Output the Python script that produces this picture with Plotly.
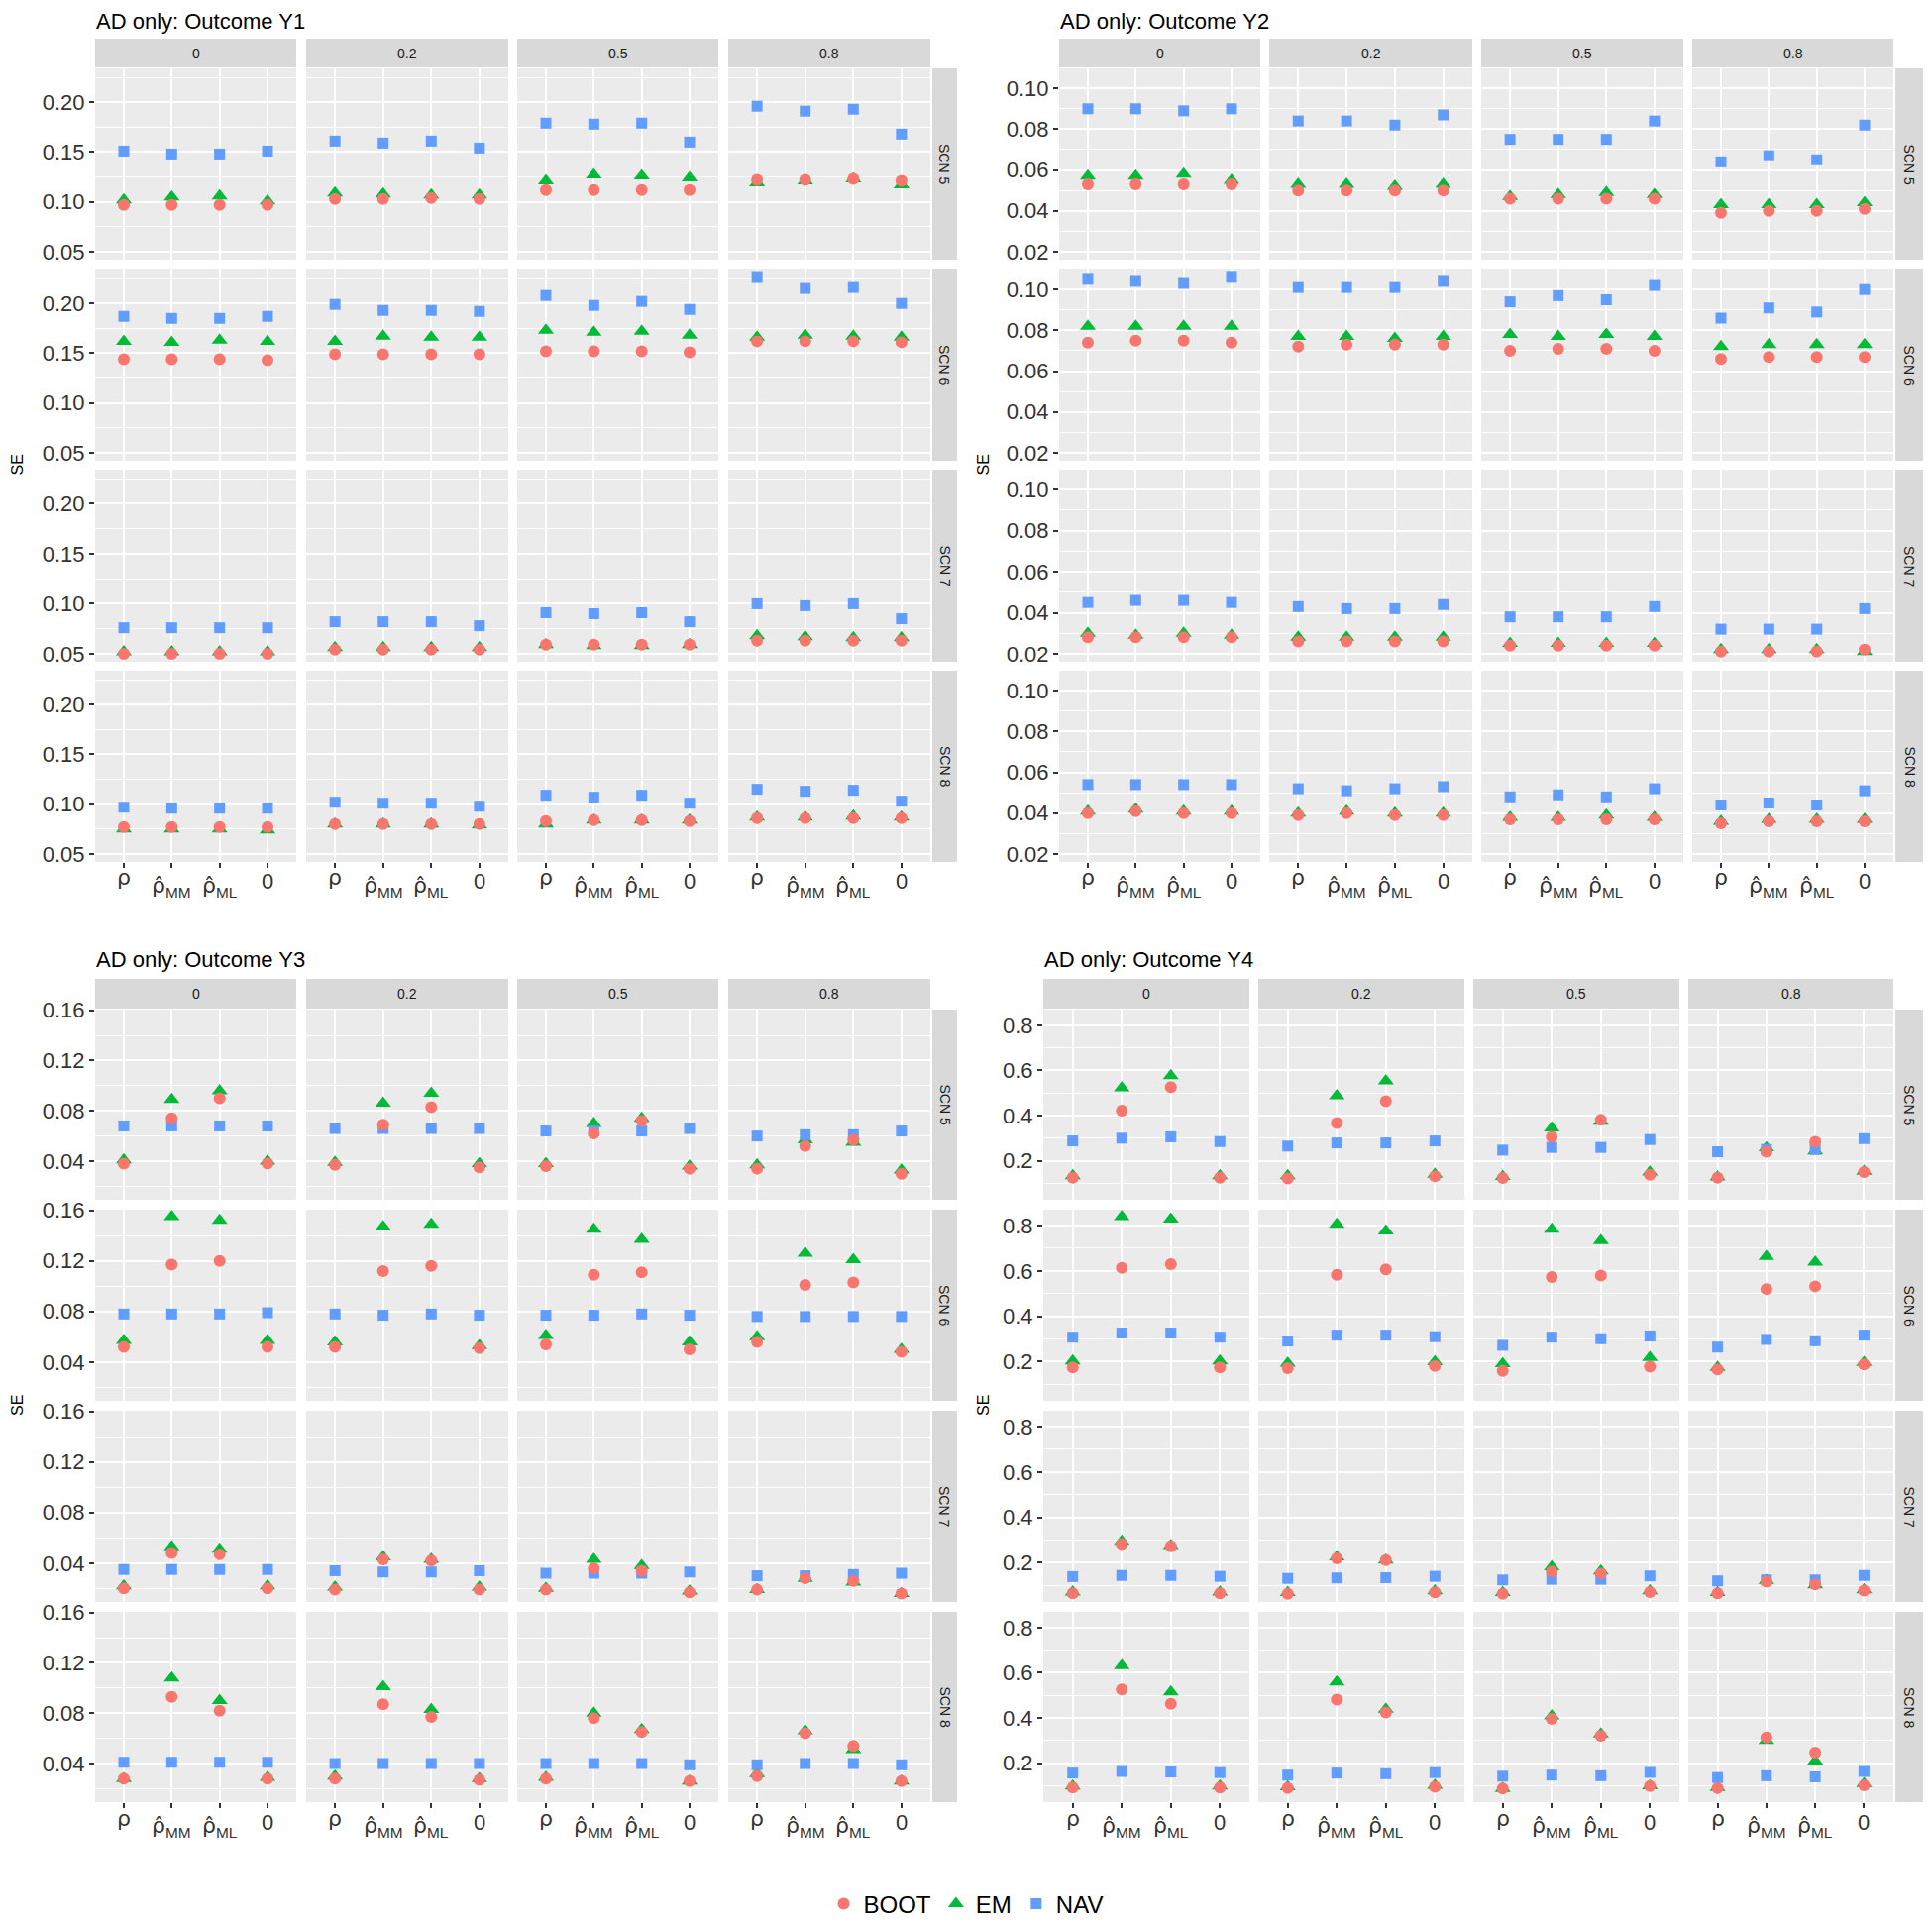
import plotly.graph_objects as go

W, H = 1950, 1944
# the page body adds an 8px margin around the figure: keep the figure inside the window
PAGE_OFF = 8
FIG_W, FIG_H = W - 2 * PAGE_OFF, H - 2 * PAGE_OFF

# ---------------- data ----------------
x_cats = ["rho", "rho_MM", "rho_ML", "zero"]
RHO = "<span style='font-family:DejaVu Sans'>ρ</span>"
RHO_HAT = "<span style='font-family:DejaVu Sans'>ρ\u0302</span>"
x_labels = [RHO, RHO_HAT + "<sub>MM</sub>", RHO_HAT + "<sub>ML</sub>", "0"]
rho_levels = ["0", "0.2", "0.5", "0.8"]
scn_levels = ["SCN 5", "SCN 6", "SCN 7", "SCN 8"]
methods = ["BOOT", "EM", "NAV"]

# each array: [scenario][rho level][x category]
Y1_BOOT = [[[0.097, 0.097, 0.097, 0.097], [0.103, 0.103, 0.104, 0.103], [0.112, 0.112, 0.112, 0.112], [0.122, 0.122, 0.123, 0.121]],
           [[0.144, 0.144, 0.144, 0.143], [0.149, 0.149, 0.149, 0.149], [0.152, 0.152, 0.152, 0.151], [0.162, 0.162, 0.162, 0.161]],
           [[0.050, 0.050, 0.050, 0.050], [0.054, 0.054, 0.054, 0.054], [0.059, 0.059, 0.059, 0.059], [0.063, 0.063, 0.063, 0.063]],
           [[0.077, 0.077, 0.077, 0.077], [0.080, 0.080, 0.080, 0.080], [0.083, 0.084, 0.084, 0.083], [0.086, 0.086, 0.086, 0.086]]]
Y1_EM = [[[0.102, 0.105, 0.106, 0.101], [0.109, 0.108, 0.107, 0.107], [0.121, 0.127, 0.126, 0.124], [0.119, 0.121, 0.123, 0.117]],
         [[0.162, 0.161, 0.163, 0.162], [0.162, 0.167, 0.166, 0.166], [0.173, 0.171, 0.172, 0.168], [0.166, 0.168, 0.167, 0.166]],
         [[0.052, 0.052, 0.052, 0.052], [0.056, 0.056, 0.056, 0.056], [0.059, 0.058, 0.058, 0.059], [0.068, 0.067, 0.066, 0.066]],
         [[0.075, 0.075, 0.075, 0.074], [0.080, 0.080, 0.080, 0.079], [0.080, 0.084, 0.084, 0.084], [0.087, 0.087, 0.088, 0.087]]]
Y1_NAV = [[[0.151, 0.148, 0.148, 0.151], [0.161, 0.159, 0.161, 0.154], [0.179, 0.178, 0.179, 0.160], [0.196, 0.191, 0.193, 0.168]],
          [[0.187, 0.185, 0.185, 0.187], [0.199, 0.193, 0.193, 0.192], [0.208, 0.198, 0.202, 0.194], [0.226, 0.215, 0.216, 0.200]],
          [[0.076, 0.076, 0.076, 0.076], [0.082, 0.082, 0.082, 0.078], [0.091, 0.090, 0.091, 0.082], [0.100, 0.098, 0.100, 0.085]],
          [[0.097, 0.096, 0.096, 0.096], [0.102, 0.101, 0.101, 0.098], [0.109, 0.107, 0.109, 0.101], [0.115, 0.113, 0.114, 0.103]]]

Y2_BOOT = [[[0.053, 0.053, 0.053, 0.053], [0.050, 0.050, 0.050, 0.050], [0.046, 0.046, 0.046, 0.046], [0.039, 0.040, 0.040, 0.041]],
           [[0.074, 0.075, 0.075, 0.074], [0.072, 0.073, 0.073, 0.073], [0.070, 0.071, 0.071, 0.070], [0.066, 0.067, 0.067, 0.067]],
           [[0.028, 0.028, 0.028, 0.028], [0.026, 0.026, 0.026, 0.026], [0.024, 0.024, 0.024, 0.024], [0.021, 0.021, 0.021, 0.022]],
           [[0.040, 0.041, 0.040, 0.040], [0.039, 0.040, 0.039, 0.039], [0.037, 0.037, 0.037, 0.037], [0.035, 0.036, 0.036, 0.036]]]
Y2_EM = [[[0.057, 0.057, 0.058, 0.055], [0.053, 0.053, 0.052, 0.053], [0.047, 0.048, 0.049, 0.048], [0.043, 0.043, 0.043, 0.044]],
         [[0.082, 0.082, 0.082, 0.082], [0.077, 0.077, 0.076, 0.077], [0.078, 0.077, 0.078, 0.077], [0.072, 0.073, 0.073, 0.073]],
         [[0.030, 0.029, 0.030, 0.029], [0.028, 0.028, 0.028, 0.028], [0.025, 0.025, 0.025, 0.025], [0.022, 0.022, 0.022, 0.021]],
         [[0.041, 0.042, 0.041, 0.041], [0.040, 0.041, 0.040, 0.040], [0.038, 0.038, 0.039, 0.038], [0.036, 0.037, 0.037, 0.037]]]
Y2_NAV = [[[0.090, 0.090, 0.089, 0.090], [0.084, 0.084, 0.082, 0.087], [0.075, 0.075, 0.075, 0.084], [0.064, 0.067, 0.065, 0.082]],
          [[0.105, 0.104, 0.103, 0.106], [0.101, 0.101, 0.101, 0.104], [0.094, 0.097, 0.095, 0.102], [0.086, 0.091, 0.089, 0.100]],
          [[0.045, 0.046, 0.046, 0.045], [0.043, 0.042, 0.042, 0.044], [0.038, 0.038, 0.038, 0.043], [0.032, 0.032, 0.032, 0.042]],
          [[0.054, 0.054, 0.054, 0.054], [0.052, 0.051, 0.052, 0.053], [0.048, 0.049, 0.048, 0.052], [0.044, 0.045, 0.044, 0.051]]]

Y3_BOOT = [[[0.038, 0.074, 0.090, 0.038], [0.037, 0.069, 0.083, 0.035], [0.036, 0.062, 0.072, 0.034], [0.034, 0.052, 0.057, 0.030]],
           [[0.052, 0.117, 0.120, 0.052], [0.052, 0.112, 0.116, 0.051], [0.054, 0.109, 0.111, 0.050], [0.056, 0.101, 0.103, 0.048]],
           [[0.020, 0.048, 0.047, 0.020], [0.019, 0.043, 0.042, 0.019], [0.019, 0.036, 0.034, 0.017], [0.019, 0.028, 0.026, 0.016]],
           [[0.028, 0.093, 0.082, 0.028], [0.028, 0.087, 0.077, 0.027], [0.028, 0.076, 0.065, 0.026], [0.030, 0.064, 0.054, 0.026]]]
Y3_EM = [[[0.041, 0.089, 0.096, 0.040], [0.039, 0.086, 0.094, 0.038], [0.038, 0.070, 0.074, 0.036], [0.037, 0.057, 0.055, 0.033]],
         [[0.057, 0.155, 0.152, 0.057], [0.056, 0.147, 0.149, 0.053], [0.061, 0.145, 0.137, 0.056], [0.060, 0.126, 0.121, 0.050]],
         [[0.022, 0.053, 0.051, 0.022], [0.021, 0.045, 0.043, 0.021], [0.020, 0.043, 0.038, 0.018], [0.019, 0.028, 0.025, 0.016]],
         [[0.028, 0.108, 0.090, 0.029], [0.030, 0.101, 0.083, 0.028], [0.029, 0.080, 0.067, 0.026], [0.032, 0.066, 0.051, 0.026]]]
Y3_NAV = [[[0.068, 0.068, 0.068, 0.068], [0.066, 0.066, 0.066, 0.066], [0.064, 0.064, 0.064, 0.066], [0.060, 0.061, 0.061, 0.064]],
          [[0.078, 0.078, 0.078, 0.079], [0.078, 0.077, 0.078, 0.077], [0.077, 0.077, 0.078, 0.077], [0.076, 0.076, 0.076, 0.076]],
          [[0.035, 0.035, 0.035, 0.035], [0.034, 0.033, 0.033, 0.034], [0.032, 0.032, 0.032, 0.033], [0.030, 0.030, 0.031, 0.032]],
          [[0.041, 0.041, 0.041, 0.041], [0.040, 0.040, 0.040, 0.040], [0.040, 0.040, 0.040, 0.039], [0.039, 0.040, 0.040, 0.039]]]

Y4_BOOT = [[[0.125, 0.422, 0.526, 0.125], [0.121, 0.367, 0.464, 0.131], [0.124, 0.306, 0.382, 0.138], [0.125, 0.240, 0.284, 0.150]],
           [[0.174, 0.613, 0.630, 0.174], [0.171, 0.583, 0.607, 0.181], [0.159, 0.573, 0.580, 0.178], [0.166, 0.520, 0.532, 0.188]],
           [[0.065, 0.282, 0.273, 0.065], [0.063, 0.219, 0.212, 0.070], [0.063, 0.161, 0.152, 0.071], [0.065, 0.117, 0.105, 0.077]],
           [[0.092, 0.526, 0.463, 0.092], [0.090, 0.481, 0.424, 0.095], [0.087, 0.396, 0.321, 0.098], [0.089, 0.314, 0.247, 0.102]]]
Y4_EM = [[[0.133, 0.523, 0.577, 0.133], [0.133, 0.488, 0.554, 0.140], [0.130, 0.345, 0.375, 0.150], [0.128, 0.257, 0.243, 0.153]],
         [[0.203, 0.839, 0.829, 0.203], [0.193, 0.806, 0.776, 0.199], [0.191, 0.784, 0.733, 0.218], [0.174, 0.664, 0.639, 0.196]],
         [[0.071, 0.295, 0.276, 0.071], [0.068, 0.226, 0.212, 0.076], [0.068, 0.182, 0.163, 0.076], [0.068, 0.122, 0.102, 0.080]],
         [[0.098, 0.632, 0.516, 0.098], [0.095, 0.559, 0.439, 0.102], [0.087, 0.409, 0.329, 0.099], [0.092, 0.300, 0.209, 0.109]]]
Y4_NAV = [[[0.288, 0.300, 0.306, 0.285], [0.265, 0.279, 0.279, 0.288], [0.247, 0.259, 0.259, 0.294], [0.240, 0.250, 0.250, 0.298]],
          [[0.308, 0.326, 0.326, 0.308], [0.291, 0.317, 0.317, 0.310], [0.272, 0.308, 0.301, 0.313], [0.264, 0.298, 0.292, 0.317]],
          [[0.139, 0.144, 0.144, 0.140], [0.131, 0.133, 0.134, 0.140], [0.124, 0.127, 0.127, 0.142], [0.120, 0.124, 0.124, 0.144]],
          [[0.156, 0.163, 0.161, 0.158], [0.147, 0.156, 0.153, 0.158], [0.142, 0.147, 0.144, 0.159], [0.136, 0.144, 0.139, 0.163]]]

panel_titles = ["AD only: Outcome Y1", "AD only: Outcome Y2", "AD only: Outcome Y3", "AD only: Outcome Y4"]

# ---------------- layout geometry (window pixels) ----------------
COLS_L = [(96, 299), (309, 513), (522, 725), (735, 939)]
COLS_R2 = [(1069, 1272), (1281, 1486), (1495, 1699), (1708, 1911)]
COLS_R4 = [(1053, 1261), (1270, 1478), (1487, 1695), (1704, 1911)]
ROWS_T = [(69, 262), (272, 465), (474, 668), (677, 870)]
ROWS_B = [(1019, 1211), (1221, 1414), (1424, 1617), (1627, 1819)]

PANELS = [
    dict(title=panel_titles[0], data={"BOOT": Y1_BOOT, "EM": Y1_EM, "NAV": Y1_NAV},
         cols=COLS_L, rows=ROWS_T, strip_y=(39, 68), strip_x=(941, 966), title_top=8, se_x=17,
         yrange=[0.042, 0.234], tick0=0.05, dtick=0.05, fmt=".2f"),
    dict(title=panel_titles[1], data={"BOOT": Y2_BOOT, "EM": Y2_EM, "NAV": Y2_NAV},
         cols=COLS_R2, rows=ROWS_T, strip_y=(39, 68), strip_x=(1913, 1941), title_top=8, se_x=992,
         yrange=[0.0161, 0.1098], tick0=0.02, dtick=0.02, fmt=".2f"),
    dict(title=panel_titles[2], data={"BOOT": Y3_BOOT, "EM": Y3_EM, "NAV": Y3_NAV},
         cols=COLS_L, rows=ROWS_B, strip_y=(988, 1018), strip_x=(941, 966), title_top=955, se_x=17,
         yrange=[0.0093, 0.1605], tick0=0.04, dtick=0.04, fmt=".2f"),
    dict(title=panel_titles[3], data={"BOOT": Y4_BOOT, "EM": Y4_EM, "NAV": Y4_NAV},
         cols=COLS_R4, rows=ROWS_B, strip_y=(988, 1018), strip_x=(1913, 1941), title_top=955, se_x=992,
         yrange=[0.027, 0.870], tick0=0.2, dtick=0.2, fmt=".1f"),
]

STYLE = {
    "BOOT": dict(color="#F8766D", symbol="circle", size=12, rank=1),
    "EM": dict(color="#00BA38", symbol="triangle-up", size=14, rank=2),
    "NAV": dict(color="#619CFF", symbol="square", size=11, rank=3),
}
DRAW_ORDER = ["EM", "NAV", "BOOT"]

FONT = "Liberation Sans, Arial, sans-serif"
TICK_COL = "#333333"
LABEL_OFF = [16, 25, 25, 20]  # px below the panel bottom for each x label


def fx(p):
    return (p - PAGE_OFF) / FIG_W


def fy(p):
    return 1 - (p - PAGE_OFF) / FIG_H


fig = go.Figure()
layout = {}
shapes = []
annotations = []
k = 0
for P in PANELS:
    annotations.append(dict(text=P["title"], x=fx(P["cols"][0][0]), y=fy(P["title_top"]), xref="paper", yref="paper",
                            xanchor="left", yanchor="top", showarrow=False, borderpad=0,
                            font=dict(size=22, color="black", family=FONT)))
    yc = (P["rows"][0][0] + P["rows"][3][1]) / 2
    annotations.append(dict(text="SE", x=fx(P["se_x"]), y=fy(yc), xref="paper", yref="paper",
                            xanchor="center", yanchor="middle", showarrow=False, textangle=-90,
                            font=dict(size=16, color="black", family=FONT)))
    for c, (x0, x1) in enumerate(P["cols"]):
        shapes.append(dict(type="rect", xref="paper", yref="paper", x0=fx(x0), x1=fx(x1),
                           y0=fy(P["strip_y"][1]), y1=fy(P["strip_y"][0]), fillcolor="#D9D9D9",
                           line=dict(width=0), layer="below"))
        annotations.append(dict(text=rho_levels[c], x=fx((x0 + x1) / 2), y=fy(sum(P["strip_y"]) / 2),
                                xref="paper", yref="paper", showarrow=False, xanchor="center", yanchor="middle",
                                font=dict(size=14, color="#1A1A1A", family=FONT)))
    for r, (y0, y1) in enumerate(P["rows"]):
        sx0, sx1 = P["strip_x"]
        shapes.append(dict(type="rect", xref="paper", yref="paper", x0=fx(sx0), x1=fx(sx1),
                           y0=fy(y1), y1=fy(y0), fillcolor="#D9D9D9", line=dict(width=0), layer="below"))
        annotations.append(dict(text=scn_levels[r], x=fx((sx0 + sx1) / 2), y=fy((y0 + y1) / 2),
                                xref="paper", yref="paper", showarrow=False, textangle=90,
                                xanchor="center", yanchor="middle",
                                font=dict(size=14, color="#1A1A1A", family=FONT)))
    yb = P["rows"][3][1]
    for r, (y0, y1) in enumerate(P["rows"]):
        for c, (x0, x1) in enumerate(P["cols"]):
            k += 1
            sfx = "" if k == 1 else str(k)
            xref, yref = "x" + sfx, "y" + sfx
            bottom = r == 3
            left = c == 0
            layout["xaxis" + sfx] = dict(
                domain=[fx(x0), fx(x1)], anchor=yref, type="category",
                categoryorder="array", categoryarray=x_cats, range=[-0.6, 3.6],
                tickmode="array", tickvals=x_cats, ticktext=x_cats,
                showticklabels=False, ticks="outside" if bottom else "", ticklen=5, tickwidth=2,
                tickcolor=TICK_COL, automargin=False,
                showgrid=True, gridcolor="white", gridwidth=2, zeroline=False, showline=False,
            )
            layout["yaxis" + sfx] = dict(
                domain=[fy(y1), fy(y0)], anchor=xref, range=P["yrange"],
                tickmode="linear", tick0=P["tick0"], dtick=P["dtick"], tickformat=P["fmt"],
                showticklabels=left, ticks="outside" if left else "", ticklen=5, tickwidth=2,
                tickcolor=TICK_COL, tickfont=dict(size=22, color=TICK_COL, family=FONT),
                automargin=False,
                showgrid=True, gridcolor="white", gridwidth=2, zeroline=False, showline=False,
                minor=dict(tickmode="linear", tick0=0, dtick=P["dtick"] / 2, showgrid=True,
                           gridcolor="white", gridwidth=1, ticks=""),
            )
            if bottom:
                # category labels of the x axis, placed on the axis' own category positions
                for i, cat in enumerate(x_cats):
                    annotations.append(dict(text=x_labels[i], x=cat, xref=xref, y=fy(yb + LABEL_OFF[i]),
                                            yref="paper", xanchor="center", yanchor="middle", showarrow=False,
                                            borderpad=0, font=dict(size=22, color=TICK_COL, family=FONT)))
            for m in DRAW_ORDER:
                st = STYLE[m]
                fig.add_trace(go.Scatter(
                    x=x_cats, y=P["data"][m][r][c], xaxis=xref, yaxis=yref, mode="markers",
                    name=m, legendgroup=m, showlegend=(k == 1), legendrank=st["rank"],
                    marker=dict(color=st["color"], symbol=st["symbol"], size=st["size"], line=dict(width=0)),
                    cliponaxis=False,
                ))

fig.update_layout(
    **layout,
    width=FIG_W, height=FIG_H, autosize=False,
    margin=dict(l=0, r=0, t=0, b=0, autoexpand=False),
    paper_bgcolor="white", plot_bgcolor="#EBEBEB",
    shapes=shapes, annotations=annotations,
    showlegend=True,
    legend=dict(orientation="h", x=fx(975), xanchor="center", y=fy(1922), yanchor="middle",
                font=dict(size=24, color="black", family=FONT), itemwidth=30,
                bgcolor="rgba(0,0,0,0)"),
    font=dict(family=FONT),
)

fig.write_html("out.html")
